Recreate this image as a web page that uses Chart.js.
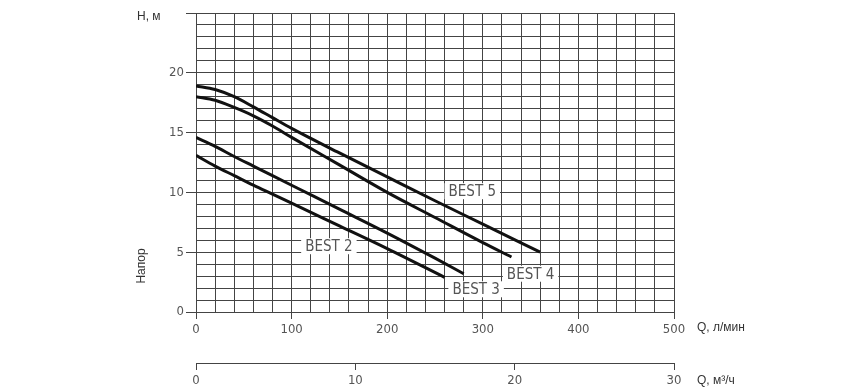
<!DOCTYPE html>
<html>
<head>
<meta charset="utf-8">
<script src="https://cdn.jsdelivr.net/npm/chart.js@4"></script>
<style>
  html, body { margin: 0; padding: 0; background: #fff; }
  #wrap { width: 868px; height: 388px; }
</style>
</head>
<body>
<div id="wrap"><canvas id="chart" width="868" height="388"></canvas></div>
<script>
// Q, л/мин  vs  H, м
const qBest2 = [0, 20, 40, 60, 80, 100, 150, 200, 260];
const hBest2 = [13.1, 12.2, 11.4, 10.6, 9.85, 9.1, 7.2, 5.3, 2.9];

const qBest3 = [0, 20, 40, 60, 80, 100, 150, 200, 250, 280];
const hBest3 = [14.6, 13.85, 13.0, 12.2, 11.4, 10.6, 8.6, 6.6, 4.5, 3.2];

const qBest4 = [0, 20, 40, 60, 80, 100, 150, 200, 250, 300, 330];
const hBest4 = [18.0, 17.7, 17.1, 16.4, 15.55, 14.6, 12.3, 10.0, 7.9, 5.8, 4.6];

const qBest5 = [0, 20, 40, 60, 80, 100, 150, 200, 250, 300, 360];
const hBest5 = [18.9, 18.6, 18.0, 17.15, 16.25, 15.35, 13.3, 11.3, 9.3, 7.35, 5.0];

// curve name labels and where they sit (Q, H)
const labelText = ['BEST 2', 'BEST 3', 'BEST 4', 'BEST 5'];
const labelQ    = [139, 293, 350, 289];
const labelH    = [5.5, 1.9, 3.2, 10.1];

// tick labels
const xTicks  = [0, 100, 200, 300, 400, 500];     // л/мин
const x2Ticks = [0, 10, 20, 30];                  // м³/ч
const yTicks  = [0, 5, 10, 15, 20];               // м

const GRID = '#444';
const TICK_FONT = { family: "'DejaVu Sans Condensed', 'DejaVu Sans', sans-serif", size: 13 };
const TITLE_FONT = "12px 'Liberation Sans', Arial, sans-serif";

function pts(q, h) {
  return q.map((x, i) => ({ x, y: h[i] }));
}

function curve(q, h) {
  return {
    data: pts(q, h),
    borderColor: '#111',
    borderWidth: 3,
    pointRadius: 0,
    fill: false,
    cubicInterpolationMode: 'monotone'
  };
}

// white-boxed labels for each curve
const curveLabels = {
  id: 'curveLabels',
  afterDatasetsDraw(chart) {
    const { ctx, scales } = chart;
    ctx.save();
    ctx.font = "15px 'DejaVu Sans Condensed', 'DejaVu Sans', sans-serif";
    ctx.textAlign = 'center';
    ctx.textBaseline = 'middle';
    labelText.forEach((t, i) => {
      const x = scales.x.getPixelForValue(labelQ[i]);
      const y = scales.y.getPixelForValue(labelH[i]);
      const w = ctx.measureText(t).width + 8;
      ctx.fillStyle = '#fff';
      ctx.fillRect(x - w / 2, y - 8, w, 16);
      ctx.fillStyle = '#555';
      ctx.fillText(t, x, y + 1);
    });
    ctx.restore();
  }
};

// axis titles
const axisTitles = {
  id: 'axisTitles',
  afterDraw(chart) {
    const { ctx, chartArea } = chart;
    ctx.save();
    ctx.font = TITLE_FONT;
    ctx.fillStyle = '#333';
    ctx.textBaseline = 'middle';
    ctx.textAlign = 'left';
    ctx.fillText('H, м', chartArea.left - 59, chartArea.top + 4);
    ctx.fillText('Q, л/мин', chartArea.right + 23, chartArea.bottom + 16);
    ctx.fillText('Q, м³/ч', chartArea.right + 23, chartArea.bottom + 69);
    ctx.translate(chartArea.left - 54, chartArea.bottom - 46);
    ctx.rotate(-Math.PI / 2);
    ctx.textAlign = 'center';
    ctx.fillText('Напор', 0, 0);
    ctx.restore();
  }
};

new Chart(document.getElementById('chart'), {
  type: 'line',
  data: {
    datasets: [
      curve(qBest2, hBest2),
      curve(qBest3, hBest3),
      curve(qBest4, hBest4),
      curve(qBest5, hBest5)
    ]
  },
  options: {
    responsive: false,
    animation: false,
    events: [],
    layout: { padding: { left: 130, right: 194, top: 13, bottom: 0 } },
    plugins: { legend: { display: false }, tooltip: { enabled: false } },
    scales: {
      x: {
        type: 'linear',
        position: 'bottom',
        weight: 0,
        min: 0,
        max: 500,
        afterFit: s => { s.height = 51; },
        ticks: {
          stepSize: 20,
          autoSkip: false,
          maxRotation: 0,
          padding: 3,
          color: '#555',
          font: TICK_FONT,
          callback: v => (xTicks.includes(v) ? v : '')
        },
        grid: {
          color: GRID,
          lineWidth: 1,
          tickLength: 7,
          tickColor: c => (c.tick && xTicks.includes(c.tick.value) ? GRID : 'rgba(0,0,0,0)')
        },
        border: { display: true, color: GRID }
      },
      x2: {
        type: 'linear',
        axis: 'x',
        position: 'bottom',
        weight: 1,
        min: 0,
        max: 30,
        afterFit: s => { s.height = 25; },
        ticks: {
          stepSize: 10,
          autoSkip: false,
          maxRotation: 0,
          padding: 3,
          color: '#555',
          font: TICK_FONT,
          callback: v => (x2Ticks.includes(v) ? v : '')
        },
        grid: { drawOnChartArea: false, color: GRID, tickLength: 7 },
        border: { display: true, color: GRID }
      },
      y: {
        type: 'linear',
        position: 'left',
        min: 0,
        max: 25,
        afterFit: s => { s.width = 66; },
        ticks: {
          stepSize: 1,
          autoSkip: false,
          padding: 2,
          color: '#555',
          font: TICK_FONT,
          callback: v => (yTicks.includes(v) ? v : '')
        },
        grid: {
          color: GRID,
          lineWidth: 1,
          tickLength: 10,
          tickColor: c => (c.tick && c.tick.value % 5 === 0 ? GRID : 'rgba(0,0,0,0)')
        },
        border: { display: true, color: GRID }
      }
    }
  },
  plugins: [curveLabels, axisTitles]
});
</script>
</body>
</html>
